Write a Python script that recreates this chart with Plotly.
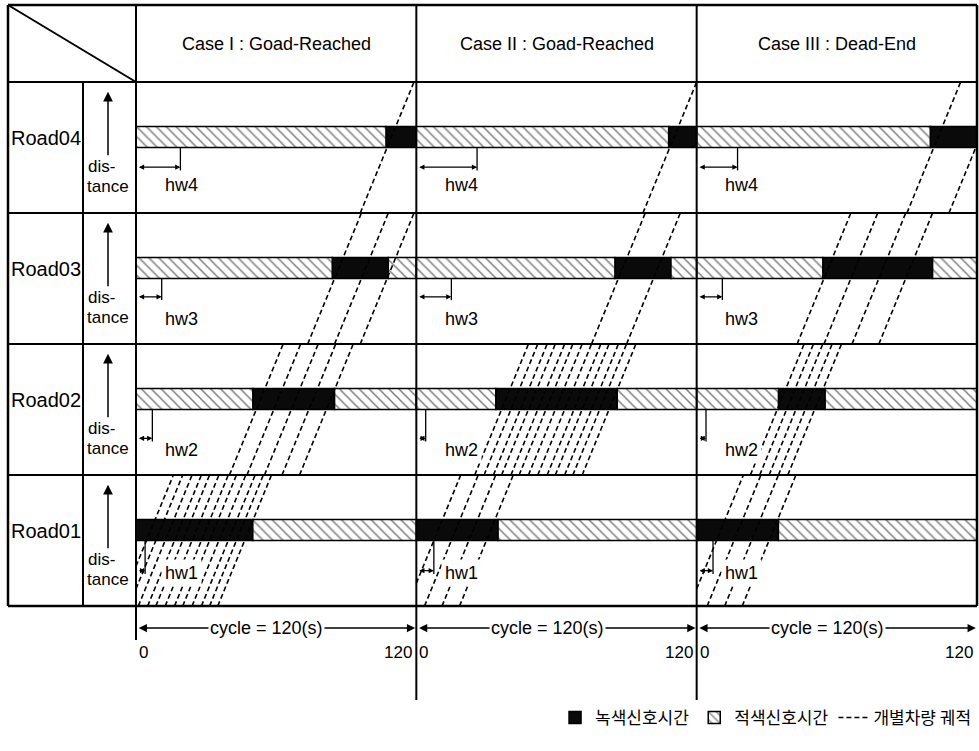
import plotly.graph_objects as go

# ---------------- data ----------------
CYCLE = 120          # cycle length (s)
TRAVEL = 23          # time (s) a vehicle needs to cross one road band

case_titles = ["Case I : Goad-Reached", "Case II : Goad-Reached", "Case III : Dead-End"]
road_names = ["Road01", "Road02", "Road03", "Road04"]
hw_labels = ["hw1", "hw2", "hw3", "hw4"]

# green signal windows (s) per case, per road (Road01..Road04)
green_start = [[0, 50, 84, 107], [0, 34, 85, 108], [0, 35, 54, 100]]
green_end = [[50, 85, 108, 120], [35, 86, 109, 120], [35, 55, 101, 120]]

# headway (s) per case, per road
headway = [[3.9, 7, 11, 19], [7.5, 4, 15, 26], [7, 4, 11, 17.5]]

# vehicle trajectories: time (s) when each vehicle is at the bottom of its road band
traj_case1 = [[-7, -3, 1, 5, 8.5, 12.5, 16.5, 20, 24, 28, 31.5, 35],
              [40, 47.5, 55, 62.5, 70],
              [73.5, 85, 96],
              [96]]
traj_case2 = [[-4, 3.5, 11, 18.5],
              [25, 29, 33, 36.5, 40.5, 44, 48, 52, 56, 59.5, 63.5, 67, 71],
              [75, 90],
              [97]]
traj_case3 = [[-3, 4.5, 12, 19.5],
              [23, 27, 31, 35, 39],
              [43, 54.5, 66.5, 78],
              [90, 108]]
trajectories = [traj_case1, traj_case2, traj_case3]

cycle_label = "cycle = 120(s)"
tick_text = ["0", "120"]
legend_names = ["녹색신호시간", "적색신호시간", "개별차량 궤적"]

# ---------------- layout helpers ----------------
W, H = 979, 751
PX0, PX_END = 136, 977
SPX = (PX_END - PX0) / (3 * CYCLE)
ROW_PX, Y0_PX = 131, 606


def X(px):
    return (px - PX0) / SPX


def Y(py):
    return (Y0_PX - py) / ROW_PX


BAR_LO, BAR_HI = 0.5, 0.66
FONT = "Liberation Sans, Arial, Helvetica, sans-serif"
KFONT = "Noto Sans CJK KR, sans-serif"

# ---------------- bars ----------------
gx, gb, gy = [], [], []
rx, rb, ry = [], [], []
for c in range(3):
    off = c * CYCLE
    for r in range(4):
        s, e = green_start[c][r], green_end[c][r]
        yc = r + (BAR_LO + BAR_HI) / 2
        gx.append(e - s); gb.append(off + s); gy.append(yc)
        if s > 0:
            rx.append(s); rb.append(off); ry.append(yc)
        if e < CYCLE:
            rx.append(CYCLE - e); rb.append(off + e); ry.append(yc)

# ---------------- trajectories ----------------
tx, ty = [], []
for c in range(3):
    off = c * CYCLE
    for r in range(4):
        for tb in trajectories[c][r]:
            f0 = max(0.0, -tb / TRAVEL)
            f1 = min(1.0, (CYCLE - tb) / TRAVEL)
            tx += [off + tb + f0 * TRAVEL, off + tb + f1 * TRAVEL, None]
            ty += [r + f0, r + f1, None]

fig = go.Figure()
fig.add_trace(go.Bar(orientation="h", x=gx, base=gb, y=gy, width=BAR_HI - BAR_LO,
                     name=legend_names[0], hoverinfo="skip",
                     marker=dict(color="#0a0a0a", line=dict(color="black", width=1.5))))
fig.add_trace(go.Bar(orientation="h", x=rx, base=rb, y=ry, width=BAR_HI - BAR_LO,
                     name=legend_names[1], hoverinfo="skip",
                     marker=dict(color="white", line=dict(color="black", width=1.5),
                                 pattern=dict(shape="\\", fgcolor="black", bgcolor="white",
                                              size=7, solidity=0.22))))
fig.add_trace(go.Scatter(x=tx, y=ty, mode="lines", name=legend_names[2], hoverinfo="skip",
                         line=dict(color="black", width=1.6, dash="5px,3px")))

# ---------------- table frame ----------------
shapes = []
LW = 2


def line(x0, y0, x1, y1, w=LW):
    shapes.append(dict(type="line", xref="x", yref="y", x0=x0, y0=y0, x1=x1, y1=y1,
                       line=dict(color="black", width=w)))


xl, xr = X(8), X(977)
yt, yb = Y(5), Y(606)
line(xl, yt, xr, yt, 2.5)
line(xl, yb, xr, yb, 2.5)
line(xl, yt, xl, yb, 2.5)
line(xr, yt, xr, yb, 2.5)
line(xl, 4, xr, 4)
for r in range(1, 4):
    line(xl, r, xr, r)
line(X(83), 4, X(83), 0)
line(xl, yt, 0, 4)
line(0, yt, 0, Y(640))
for c in (1, 2):
    line(c * CYCLE, yt, c * CYCLE, Y(700))

annotations = []


def text(x, y, s, size=18, xanchor="center", family=FONT, **kw):
    annotations.append(dict(x=x, y=y, xref="x", yref="y", text=s, showarrow=False,
                            xanchor=xanchor, yanchor="middle",
                            font=dict(family=family, size=size, color="black"), **kw))


def arrow(x0, y0, x1, y1, both=False, size=1.0, width=1.5):
    a = dict(x=x1, y=y1, ax=x0, ay=y0, xref="x", yref="y", axref="x", ayref="y",
             text="", showarrow=True, arrowhead=2, arrowsize=size, arrowwidth=width,
             arrowcolor="black", standoff=0, startstandoff=0)
    if both:
        a.update(arrowside="end+start", startarrowhead=2, startarrowsize=size)
    annotations.append(a)


# header titles
for c in range(3):
    text(c * CYCLE + CYCLE / 2, Y(44), case_titles[c], size=18)

# road labels & distance arrows
HW_ARROW_Y = [0.27, 0.28, 0.36, 0.35]
HW_LABEL_Y = [0.25, 0.19, 0.19, 0.21]
for r in range(4):
    text(X(46), r + 0.575, road_names[r], size=20)
    arrow(X(108), r + 0.43, X(108), r + 0.925, size=1.3, width=1.5)
    text(X(86), r + 0.355, "dis-", size=17, xanchor="left")
    text(X(84.5), r + 0.2, "tance", size=17, xanchor="left")

# headway markers
for c in range(3):
    off = c * CYCLE
    for r in range(4):
        h = headway[c][r]
        ya = r + HW_ARROW_Y[r]
        arrow(off + 0.6, ya, off + h, ya, both=True, size=0.8, width=1.3)
        line(off + h, r + BAR_LO, off + h, ya - 0.025, 1.3)
        text(off + 10.5, r + HW_LABEL_Y[r], hw_labels[r], size=18, xanchor="left",
             bgcolor="white", borderpad=3)

# cycle arrows and tick labels
for c in range(3):
    off = c * CYCLE
    arrow(off + 0.5, Y(628), off + CYCLE - 0.5, Y(628), both=True, size=1.1, width=1.5)
    text(off + CYCLE / 2 - 4, Y(628), cycle_label, size=18, bgcolor="white")
    text(off, Y(652), tick_text[0], size=17, xanchor="left", xshift=1)
    text(off + CYCLE, Y(652), tick_text[1], size=17, xanchor="right", xshift=-2)

fig.update_layout(
    width=W, height=H, margin=dict(l=0, r=0, t=0, b=0),
    paper_bgcolor="white", plot_bgcolor="white", barmode="overlay",
    xaxis=dict(range=[X(0), X(W)], visible=False, fixedrange=True),
    yaxis=dict(range=[Y(H), Y(0)], visible=False, fixedrange=True),
    shapes=shapes, annotations=annotations,
    showlegend=True,
    legend=dict(orientation="h", x=0.998, xanchor="right", y=1 - 718 / H, yanchor="middle",
                font=dict(family=KFONT, size=17, color="black"), bgcolor="rgba(0,0,0,0)",
                itemwidth=30, traceorder="normal"),
)

fig.write_html("out.html", config={"displayModeBar": False, "staticPlot": True},
               post_script="document.body.style.margin='0px';document.body.style.overflow='hidden';")
